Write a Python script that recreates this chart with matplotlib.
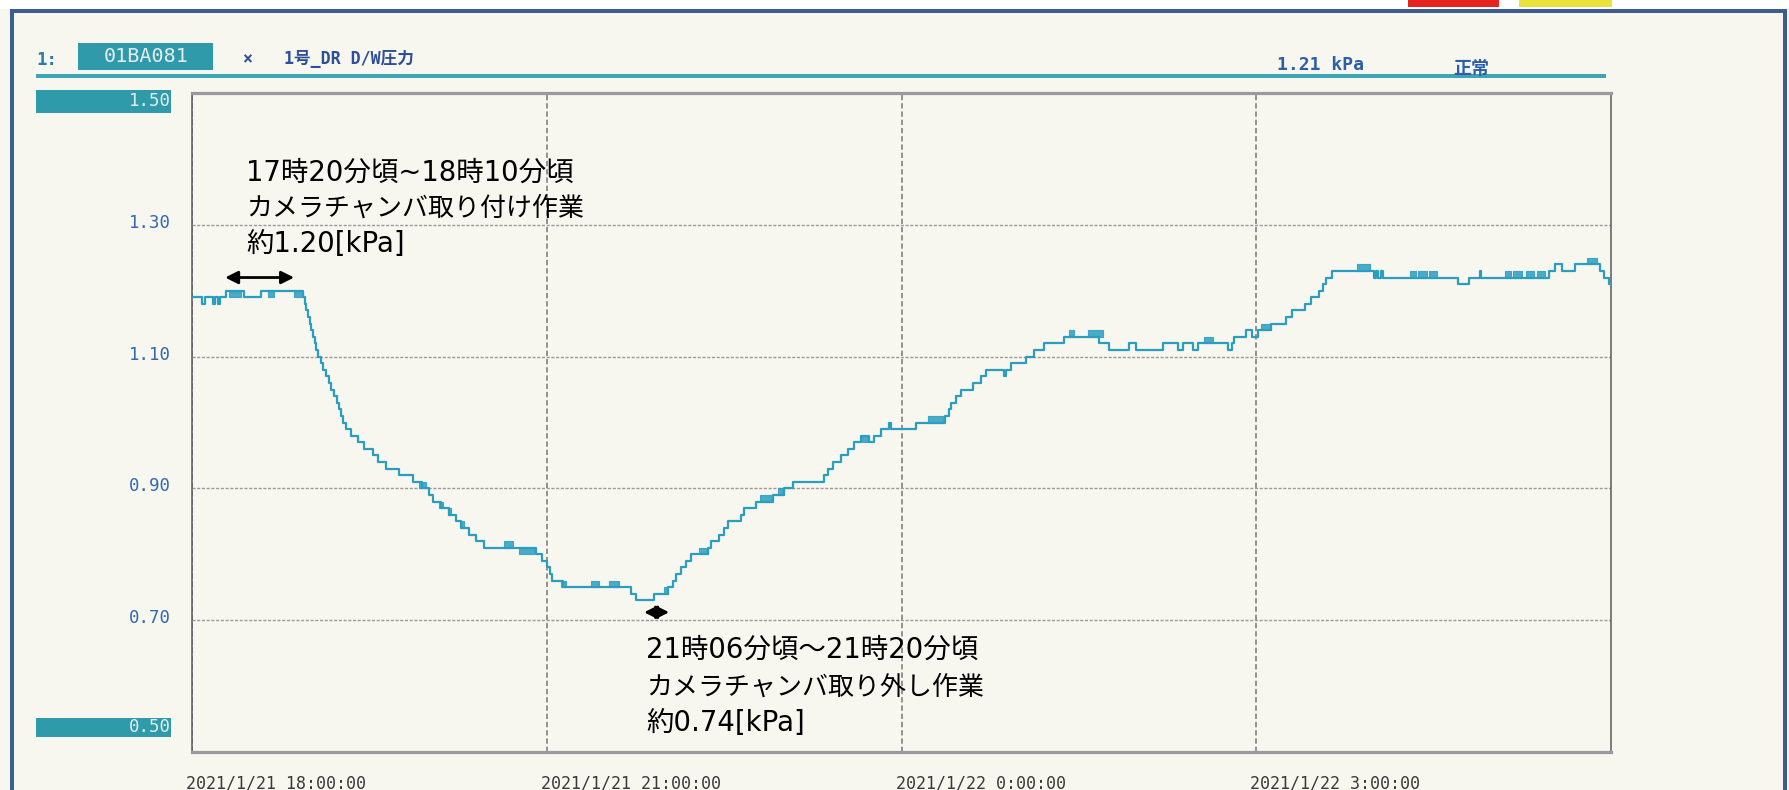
import matplotlib
matplotlib.use("Agg")
import matplotlib.pyplot as plt
from matplotlib.patches import Rectangle
from matplotlib.transforms import ScaledTranslation
import pandas as pd

# ---------------- data ----------------
start_time = "2021-01-21 18:00:00"
end_time = "2021-01-22 06:00:00"

# step-change points: minutes after 18:00 and the new value [kPa]
step_minutes = [0.0, 5.1, 6.6, 10.7, 11.7, 13.2, 14.2, 17.3, 26.4, 35.0,
                56.3, 57.4, 57.9, 58.9, 59.9, 60.4, 61.4, 62.4, 62.9, 64.0,
                65.5, 66.5, 68.0, 69.5, 70.6, 72.1, 73.6, 74.6, 75.6, 76.6,
                78.2, 80.7, 84.3, 87.3, 91.9, 94.4, 98.5, 105.1, 112.2, 116.7,
                120.3, 122.3, 126.4, 130.5, 134.0, 136.5, 140.6, 144.2, 148.2,
                174.6, 177.7, 180.2, 181.7, 182.7, 188.3, 222.8, 225.4, 234.5,
                241.6, 244.2, 245.7, 248.2, 250.8, 253.3, 261.9, 263.4, 267.5,
                270.0, 272.1, 278.7, 280.2, 286.3, 294.9, 300.5, 305.1, 320.8,
                322.9, 325.4, 329.4, 333.0, 336.0, 339.6, 343.7, 346.2, 349.7,
                353.8, 354.8, 367.5, 382.2, 384.3, 385.3, 387.8, 390.3, 396.4,
                400.5, 403.0, 412.2, 413.2, 415.7, 423.3, 427.4, 432.5, 442.6,
                460.4, 465.5, 475.6, 479.2, 492.9, 500.5, 503.0, 508.1, 510.6,
                525.9, 527.9, 528.9, 535.0, 537.6, 541.1, 547.7, 555.3, 557.9,
                564.5, 568.0, 571.6, 574.1, 575.6, 578.2, 599.5, 601.0, 602.0,
                603.5, 604.5, 642.6, 647.7, 653.3, 653.8, 688.3, 691.4, 694.9,
                701.5, 712.7, 714.2, 716.2, 719.0, 720.0]
step_values = [1.19, 1.18, 1.19, 1.18, 1.19, 1.18, 1.19, 1.20, 1.19, 1.20,
               1.19, 1.18, 1.17, 1.16, 1.15, 1.14, 1.13, 1.12, 1.11, 1.10,
               1.09, 1.08, 1.07, 1.06, 1.05, 1.04, 1.03, 1.02, 1.01, 1.00,
               0.99, 0.98, 0.97, 0.96, 0.95, 0.94, 0.93, 0.92, 0.91, 0.90,
               0.89, 0.88, 0.87, 0.86, 0.85, 0.84, 0.83, 0.82, 0.81,
               0.80, 0.79, 0.78, 0.77, 0.76, 0.75, 0.74, 0.73, 0.74,
               0.75, 0.76, 0.77, 0.78, 0.79, 0.80, 0.81, 0.82, 0.83,
               0.84, 0.85, 0.86, 0.87, 0.88, 0.89, 0.90, 0.91, 0.92,
               0.93, 0.94, 0.95, 0.96, 0.97, 0.98, 0.97, 0.98, 0.99,
               1.00, 0.99, 1.00, 1.01, 1.02, 1.03, 1.04, 1.05, 1.06,
               1.07, 1.08, 1.07, 1.08, 1.09, 1.10, 1.11, 1.12, 1.13,
               1.12, 1.11, 1.12, 1.11, 1.12, 1.11, 1.12, 1.11, 1.12,
               1.11, 1.12, 1.13, 1.14, 1.13, 1.14, 1.15, 1.16, 1.17,
               1.18, 1.19, 1.20, 1.21, 1.22, 1.23, 1.22, 1.23, 1.22,
               1.23, 1.22, 1.21, 1.22, 1.23, 1.22, 1.23, 1.24, 1.23,
               1.24, 1.24, 1.23, 1.22, 1.21, 1.21]

# intervals where the reading flickers between two adjacent levels
flicker_start = [18.8, 38.6, 51.8, 115.2, 125.4, 129.9, 136.5, 158.4, 166.0,
                 187.3, 202.5, 211.7, 239.6, 257.3, 288.3, 297.4, 340.1, 373.6,
                 445.2, 454.8, 513.7, 542.6, 590.9, 617.8, 622.3, 627.4, 666.0,
                 670.5, 677.1, 682.2, 707.6]
flicker_end = [24.9, 41.6, 56.3, 118.8, 127.4, 131.5, 138.1, 162.9, 173.6,
               189.8, 206.6, 216.8, 241.6, 261.9, 294.4, 300.5, 343.1, 381.2,
               447.7, 462.4, 518.3, 547.7, 597.5, 621.3, 626.4, 631.5, 669.5,
               674.6, 680.7, 686.3, 712.7]
flicker_low = [1.19, 1.19, 1.19, 0.90, 0.87, 0.86, 0.84, 0.81, 0.80,
               0.75, 0.75, 0.75, 0.74, 0.80, 0.88, 0.89, 0.97, 1.00,
               1.13, 1.13, 1.12, 1.14, 1.23, 1.22, 1.22, 1.22, 1.22,
               1.22, 1.22, 1.22, 1.24]
flicker_high = [1.20, 1.20, 1.20, 0.91, 0.88, 0.87, 0.85, 0.82, 0.81,
                0.76, 0.76, 0.76, 0.75, 0.81, 0.89, 0.90, 0.98, 1.01,
                1.14, 1.14, 1.13, 1.15, 1.24, 1.23, 1.23, 1.23, 1.23,
                1.23, 1.23, 1.23, 1.25]

tick_times = ["2021-01-21 18:00", "2021-01-21 21:00", "2021-01-22 00:00", "2021-01-22 03:00"]
tick_labels = ["2021/1/21 18:00:00", "2021/1/21 21:00:00", "2021/1/22 0:00:00", "2021/1/22 3:00:00"]
y_ticks = [0.70, 0.90, 1.10, 1.30]
y_tick_labels = ["0.70", "0.90", "1.10", "1.30"]
y_min, y_max = 0.50, 1.50
y_min_label, y_max_label = "0.50", "1.50"

# annotation arrows: (start minute, end minute, level)
arrow_spans = [(16.8, 51.8, 1.220), (229.4, 242.1, 0.712)]
note_top = ["17時20分頃~18時10分頃", "カメラチャンバ取り付け作業", "約1.20[kPa]"]
note_bottom = ["21時06分頃～21時20分頃", "カメラチャンバ取り外し作業", "約0.74[kPa]"]

header_index = "1:"
header_tag = "01BA081"
header_mark = "×"
header_name = "1号_DR D/W圧力"
header_value = "1.21 kPa"
header_status = "正常"

# ---------------- style ----------------
W, H, DPI = 1790, 790, 100
PAPER = "#f7f6ef"
LINE = "#2b9ec0"
TEAL = "#2f9aaa"
BLUE = "#3169b3"
MONO = ["DejaVu Sans Mono", "Noto Sans CJK JP"]
SANS = ["DejaVu Sans", "Noto Sans CJK JP"]
plt.rcParams["font.family"] = SANS

fig = plt.figure(figsize=(W / DPI, H / DPI), dpi=DPI, facecolor=PAPER)


def fx(px):
    return px / W


def fy(py):
    return 1 - py / H


# outer scan frame
fig.add_artist(Rectangle((0, fy(9)), 1, 9 / H, transform=fig.transFigure,
                         facecolor="white", edgecolor="none"))
fig.add_artist(Rectangle((fx(1408), fy(7)), 91 / W, 7 / H, transform=fig.transFigure,
                         facecolor="#e52421", edgecolor="none"))
fig.add_artist(Rectangle((fx(1519), fy(7)), 93 / W, 7 / H, transform=fig.transFigure,
                         facecolor="#e8e23a", edgecolor="none"))
fig.add_artist(Rectangle((fx(10), fy(13)), 1777 / W, 4 / H, transform=fig.transFigure,
                         facecolor="#3d5d8f", edgecolor="none"))
fig.add_artist(Rectangle((fx(10), 0), 4 / W, fy(9), transform=fig.transFigure,
                         facecolor="#3d5d8f", edgecolor="none"))
fig.add_artist(Rectangle((fx(1783), 0), 4 / W, fy(9), transform=fig.transFigure,
                         facecolor="#3d5d8f", edgecolor="none"))

# header
fig.add_artist(Rectangle((fx(78), fy(70)), 135 / W, 27 / H, transform=fig.transFigure,
                         facecolor=TEAL, edgecolor="none"))
fig.add_artist(Rectangle((fx(36), fy(78)), 1570 / W, 3.5 / H, transform=fig.transFigure,
                         facecolor="#3ea5b5", edgecolor="none"))
fig.text(fx(36), fy(60), header_index, family=MONO, fontsize=12.5, color="#2b7aa8",
         ha="left", va="center", weight="bold")
fig.text(fx(146), fy(57), header_tag, family=MONO, fontsize=14.5, color="#e4eef0",
         ha="center", va="center")
fig.text(fx(247), fy(59), header_mark, family=MONO, fontsize=12, color="#2d4f98",
         ha="center", va="center", weight="bold")
fig.text(fx(284), fy(59), header_name, family=MONO, fontsize=12, color="#2d4f98",
         ha="left", va="center", weight="bold")
fig.text(fx(1277), fy(65), header_value, family=MONO, fontsize=13, color="#2d5fa8",
         ha="left", va="center", weight="bold")
fig.text(fx(1453), fy(69), header_status, family=MONO, fontsize=13, color="#2d5fa8",
         ha="left", va="center", weight="bold")

# boxed range labels
for label, y0, y1 in [(y_max_label, 90, 113), (y_min_label, 718, 737)]:
    fig.add_artist(Rectangle((fx(36), fy(y1)), 135 / W, (y1 - y0) / H,
                             transform=fig.transFigure, facecolor=TEAL, edgecolor="none"))
    fig.text(fx(171), fy((y0 + y1) / 2), label, family=MONO, fontsize=12.5,
             color="#e4eef0", ha="right", va="center")

# axes
ax = fig.add_axes([fx(192), fy(752), (1611 - 192) / W, (752 - 93) / H])
ax.set_facecolor("none")

t0 = pd.Timestamp(start_time)
times = t0 + pd.to_timedelta(step_minutes, unit="min")
ax.plot(times, step_values, drawstyle="steps-post", color=LINE, lw=1.6, zorder=3)

for s, e, lo, hi in zip(flicker_start, flicker_end, flicker_low, flicker_high):
    ts = t0 + pd.to_timedelta([s, e], unit="min")
    ax.fill_between(ts, [lo, lo], [hi, hi], color=LINE, alpha=0.85, lw=0.8,
                    edgecolor=LINE, zorder=3)

ax.set_xlim(pd.Timestamp(start_time), pd.Timestamp(end_time))
ax.set_ylim(y_min, y_max)

ax.set_xticks(pd.to_datetime(tick_times), tick_labels)
ax.set_yticks(y_ticks, y_tick_labels)
ax.tick_params(axis="both", length=0)
ax.tick_params(axis="x", pad=16, labelsize=12, labelcolor="#3a3a3a")
ax.tick_params(axis="y", pad=15, labelsize=12.5, labelcolor=BLUE)
for lab in ax.get_xticklabels():
    lab.set_family(MONO)
    lab.set_horizontalalignment("left")
    lab.set_transform(lab.get_transform() + ScaledTranslation(-6 / DPI, 0, fig.dpi_scale_trans))
for lab in ax.get_yticklabels():
    lab.set_family(MONO)
    lab.set_transform(lab.get_transform() + ScaledTranslation(0, 4 / DPI, fig.dpi_scale_trans))

ax.yaxis.grid(True, color="#9a9a9a", lw=1.0, linestyle=(0, (2.2, 1.2)))
ax.xaxis.grid(True, color="#777777", lw=1.1, linestyle=(0, (3.5, 1.9)))
ax.set_axisbelow(True)

for side in ["top", "bottom"]:
    ax.spines[side].set_color("#9a9a9a")
    ax.spines[side].set_linewidth(2.3)
for side in ["left", "right"]:
    ax.spines[side].set_color("#5a5a5a")
    ax.spines[side].set_linewidth(1.1)

# arrows
for s, e, lev in arrow_spans:
    ts, te = t0 + pd.Timedelta(minutes=s), t0 + pd.Timedelta(minutes=e)
    ax.annotate("", xy=(te, lev), xytext=(ts, lev),
                arrowprops=dict(arrowstyle="<|-|>", color="black", lw=2,
                                mutation_scale=19, shrinkA=0, shrinkB=0), zorder=5)

# notes
note_sizes = [19.8, 18.7, 19.8]
for txt, base, fs in zip(note_top, [181, 216, 252], note_sizes):
    fig.text(fx(246), fy(base), txt, family=SANS, fontsize=fs, color="black",
             ha="left", va="baseline")
for txt, base, fs in zip(note_bottom, [658, 695, 731], note_sizes):
    fig.text(fx(646), fy(base), txt, family=SANS, fontsize=fs, color="black",
             ha="left", va="baseline")

fig.savefig("out.png", dpi=DPI, facecolor=PAPER)
